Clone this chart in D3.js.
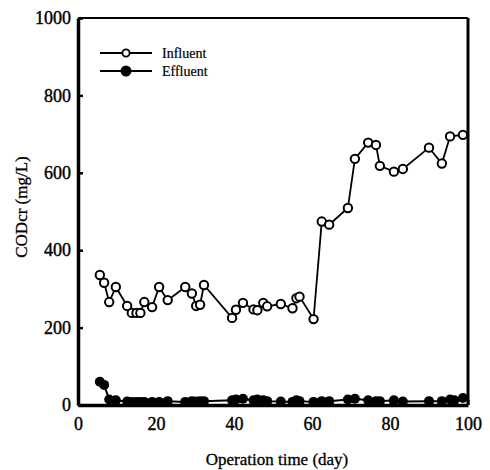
<!DOCTYPE html>
<html>
<head>
<meta charset="utf-8">
<script src="https://cdn.jsdelivr.net/npm/d3@7"></script>
<style>
  body { margin: 0; background: #fff; }
  svg { display: block; }
</style>
</head>
<body>
<div id="chart"></div>
<script>
// operation days and COD readings (mg/L)
var influentDays = [5.6, 6.7, 8, 9.7, 12.6, 13.8, 15, 16, 17, 19, 20.8, 23, 27.5, 29.2, 30.3, 31.3, 32.3,
  39.5, 40.5, 42.3, 45, 46, 47.5, 48.5, 52, 55, 56, 56.8, 60.4, 62.5, 64.4, 69.2, 71, 74.4, 76.4, 77.4,
  81, 83.3, 90, 93.3, 95.4, 98.7];
var influentCOD = [336, 316, 266, 305, 256, 238, 238, 238, 266, 253, 305, 271, 305, 288, 256, 259, 310,
  225, 246, 264, 247, 245, 264, 255, 261, 250, 276, 280, 222, 474, 466, 509, 636, 678, 672, 618,
  603, 610, 665, 624, 694, 698];

var effluentDays = [5.6, 6.7, 8, 9.7, 12.6, 13.8, 15, 16, 17, 19, 20.8, 23, 27.5, 29.2, 30.3, 31.3, 32.3,
  39.5, 40.5, 42.3, 45, 46, 47.5, 48.5, 52, 55, 56, 56.8, 60.4, 62.5, 64.4, 69.2, 71, 74.4, 76.4, 77.4,
  81, 83.3, 90, 93.3, 95.4, 96.5, 98.7];
var effluentCOD = [60, 52, 14, 12, 9, 8, 8, 8, 8, 8, 8, 10, 8, 10, 9, 10, 10,
  12, 14, 16, 12, 14, 12, 10, 9, 8, 12, 10, 8, 10, 10, 14, 16, 12, 10, 10,
  12, 9, 10, 10, 14, 12, 18];

var xTicks = [0, 20, 40, 60, 80, 100];
var yTicks = [0, 200, 400, 600, 800, 1000];

var W = 490, H = 470;
var margin = { left: 78, right: 22, top: 18, bottom: 65 };
var serif = "'Liberation Serif', 'Times New Roman', serif";

var svg = d3.select("#chart").append("svg")
  .attr("width", W)
  .attr("height", H)
  .attr("font-family", serif);

var x = d3.scaleLinear().domain([0, 100]).range([margin.left, W - margin.right]);
var y = d3.scaleLinear().domain([0, 1000]).range([H - margin.bottom, margin.top]);

// frame: heavy left/bottom/right, lighter top
svg.append("line").attr("x1", x(0)).attr("x2", x(100)).attr("y1", y(1000)).attr("y2", y(1000))
  .attr("stroke", "#000").attr("stroke-width", 2);
svg.append("line").attr("x1", x(100)).attr("x2", x(100)).attr("y1", y(1000)).attr("y2", y(0))
  .attr("stroke", "#000").attr("stroke-width", 3);

var yAxis = d3.axisLeft(y).tickValues(yTicks).tickFormat(d3.format("d"))
  .tickSizeInner(-5).tickSizeOuter(0).tickPadding(7);
var gy = svg.append("g").attr("transform", "translate(" + x(0) + ",0)").call(yAxis)
  .attr("font-family", serif);
gy.select(".domain").attr("stroke-width", 3.5);
gy.selectAll(".tick line").attr("stroke-width", 2.5);
gy.selectAll(".tick text").attr("font-size", 18).attr("stroke", "#000").attr("stroke-width", 0.4);

var xAxis = d3.axisBottom(x).tickValues(xTicks).tickFormat(d3.format("d"))
  .tickSizeInner(-5).tickSizeOuter(0).tickPadding(12);
var gx = svg.append("g").attr("transform", "translate(0," + y(0) + ")").call(xAxis)
  .attr("font-family", serif);
gx.select(".domain").attr("stroke-width", 3.5);
gx.selectAll(".tick line").attr("stroke-width", 2);
gx.selectAll(".tick text").attr("font-size", 18).attr("stroke", "#000").attr("stroke-width", 0.4);

svg.append("text")
  .attr("x", 277).attr("y", 465)
  .attr("text-anchor", "middle").attr("font-size", 17)
  .attr("stroke", "#000").attr("stroke-width", 0.3)
  .text("Operation time (day)");

svg.append("text")
  .attr("transform", "translate(27,207) rotate(-90)")
  .attr("text-anchor", "middle").attr("font-size", 17)
  .attr("stroke", "#000").attr("stroke-width", 0.3)
  .text("CODcr (mg/L)");

var line = d3.line().x(function(d) { return x(d[0]); }).y(function(d) { return y(d[1]); });

var eff = d3.zip(effluentDays, effluentCOD);
var inf = d3.zip(influentDays, influentCOD);

svg.append("path").datum(eff).attr("d", line)
  .attr("fill", "none").attr("stroke", "#000").attr("stroke-width", 2);
svg.selectAll(".eff").data(eff).enter().append("circle")
  .attr("class", "eff")
  .attr("cx", function(d) { return x(d[0]); })
  .attr("cy", function(d) { return y(d[1]); })
  .attr("r", 5).attr("fill", "#000");

svg.append("path").datum(inf).attr("d", line)
  .attr("fill", "none").attr("stroke", "#000").attr("stroke-width", 1.8);
svg.selectAll(".inf").data(inf).enter().append("circle")
  .attr("class", "inf")
  .attr("cx", function(d) { return x(d[0]); })
  .attr("cy", function(d) { return y(d[1]); })
  .attr("r", 4.2).attr("fill", "#fff").attr("stroke", "#000").attr("stroke-width", 2);

// legend
var legend = svg.append("g");
var rows = [{ name: "Influent", open: true, yy: 53 }, { name: "Effluent", open: false, yy: 71 }];
rows.forEach(function(r) {
  legend.append("line").attr("x1", 100).attr("x2", 152).attr("y1", r.yy).attr("y2", r.yy)
    .attr("stroke", "#000").attr("stroke-width", 2);
  legend.append("circle").attr("cx", 126).attr("cy", r.yy).attr("r", r.open ? 3.6 : 4.6)
    .attr("fill", r.open ? "#fff" : "#000").attr("stroke", "#000").attr("stroke-width", 1.8);
  legend.append("text")
    .attr("x", 162).attr("y", r.yy + 4.5).attr("font-size", 14)
    .attr("stroke", "#000").attr("stroke-width", 0.2)
    .text(r.name);
});
</script>
</body>
</html>
